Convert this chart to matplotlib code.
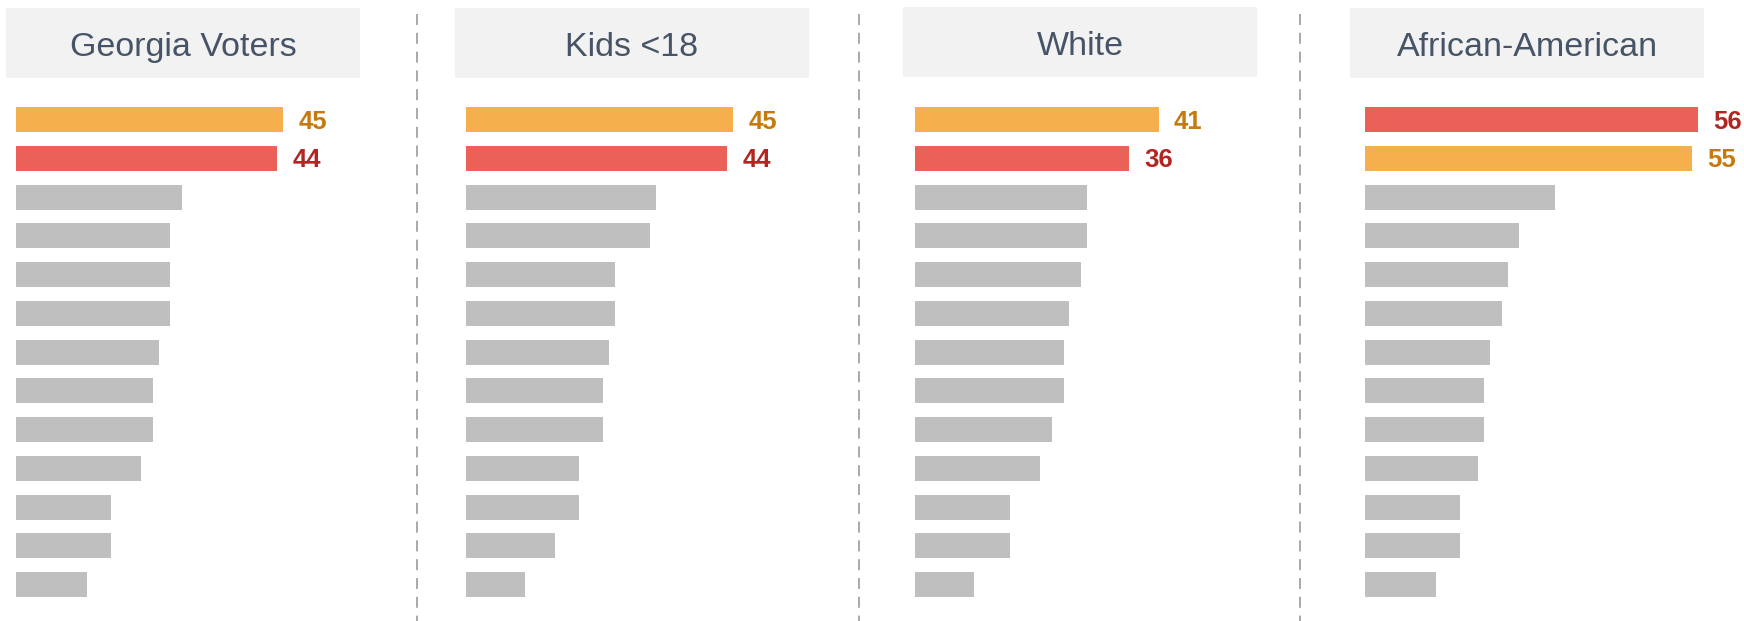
import matplotlib
matplotlib.use("Agg")
import matplotlib.pyplot as plt
from matplotlib.lines import Line2D

plt.rcParams['font.family'] = ['Liberation Sans', 'DejaVu Sans']

# data
panels = ["Georgia Voters", "Kids <18", "White", "African-American"]
georgia = [45, 44, 28, 26, 26, 26, 24, 23, 23, 21, 16, 16, 12]
kids = [45, 44, 32, 31, 25, 25, 24, 23, 23, 19, 19, 15, 10]
white = [41, 36, 29, 29, 28, 26, 25, 25, 23, 21, 16, 16, 10]
african_american = [56, 55, 32, 26, 24, 23, 21, 20, 20, 19, 16, 16, 12]
series = [georgia, kids, white, african_american]
# which of the top two bars is orange / red
top_kinds = [["o", "r"], ["o", "r"], ["o", "r"], ["r", "o"]]

ORANGE = "#F5AF4D"
RED = "#EB6158"
GRAY = "#BFBFBF"
ORANGE_TXT = "#C57A10"
RED_TXT = "#B22520"
TITLE_TXT = "#475467"
BOX = "#F2F2F2"

W, H = 1744, 621
fig = plt.figure(figsize=(W / 100, H / 100), dpi=100)

bar_left = [16, 466, 915, 1365]
box_left = [6, 455, 903, 1350]
box_top = [8, 8, 7, 8]
box_w, box_h = 354, 70
px_per_unit = 5.94
row = 38.75
ax_w = 370
ax_top = 119.5 - row / 2
ax_h = 13 * row

for i, name in enumerate(panels):
    # title box
    tb = fig.add_axes([box_left[i] / W, 1 - (box_top[i] + box_h) / H, box_w / W, box_h / H])
    tb.set_facecolor(BOX)
    for s in tb.spines.values():
        s.set_visible(False)
    tb.set_xticks([])
    tb.set_yticks([])
    tb.text(0.5, 0.44, name, ha="center", va="center", fontsize=24.5,
            color=TITLE_TXT, transform=tb.transAxes)

    # bars
    ax = fig.add_axes([bar_left[i] / W, 1 - (ax_top + ax_h) / H, ax_w / W, ax_h / H])
    vals = series[i]
    colors = []
    for j in range(len(vals)):
        if j < 2:
            colors.append(ORANGE if top_kinds[i][j] == "o" else RED)
        else:
            colors.append(GRAY)
    ypos = list(range(len(vals)))
    ax.barh(ypos, vals, height=25 / row, color=colors)
    for j in range(2):
        tc = ORANGE_TXT if top_kinds[i][j] == "o" else RED_TXT
        ax.annotate(str(vals[j]), (vals[j], ypos[j]), xytext=(11, -1.5),
                    textcoords="offset points", ha="left", va="center",
                    fontsize=18.5, fontweight="bold", color=tc)
    ax.set_xlim(0, ax_w / px_per_unit)
    ax.set_ylim(len(vals) - 0.5, -0.5)
    ax.axis("off")

# dashed separators
for x in [417.3, 859, 1300]:
    fig.add_artist(Line2D([x / W, x / W], [1 - 14 / H, 0], transform=fig.transFigure,
                          color="#ABABAB", lw=1.44, linestyle=(0, (5.5, 3.9))))

fig.savefig("out.png", dpi=100)
